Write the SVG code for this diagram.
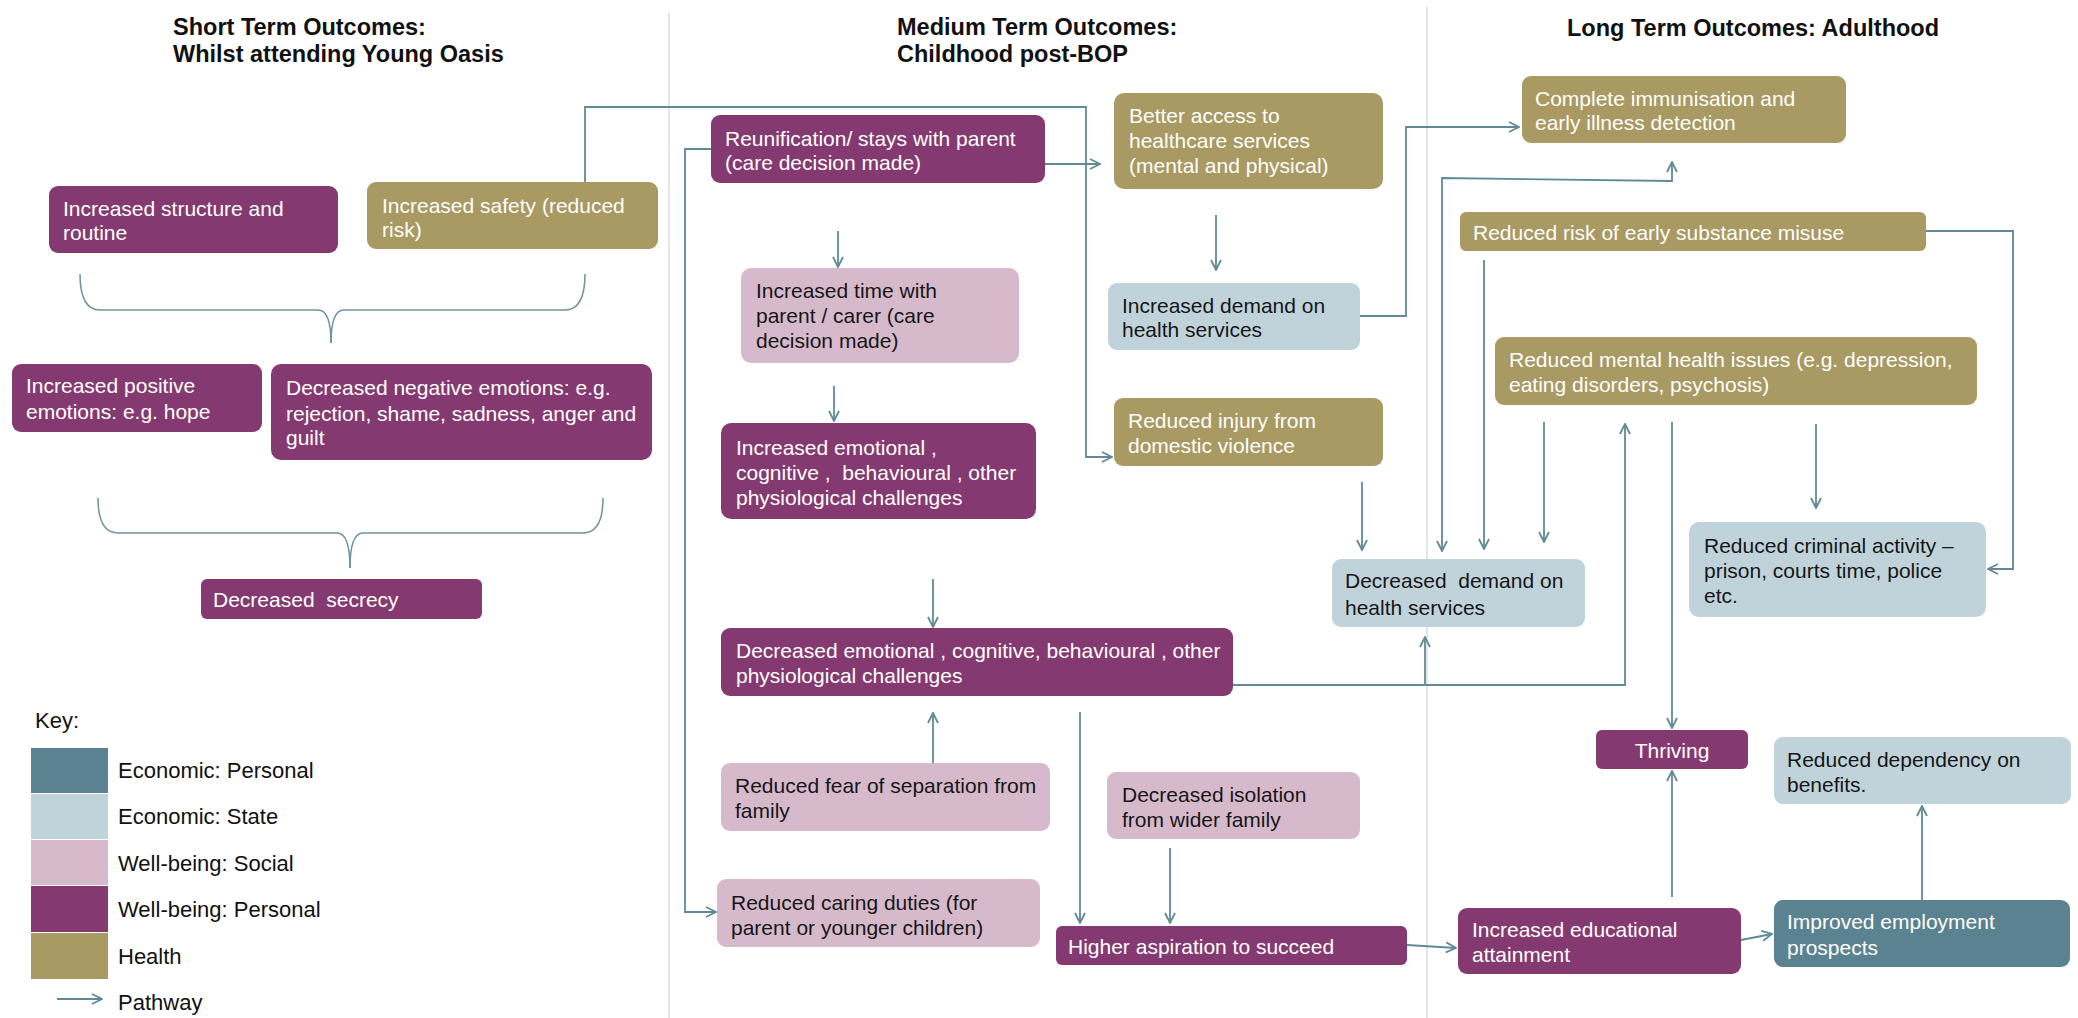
<svg xmlns="http://www.w3.org/2000/svg" width="2078" height="1018" viewBox="0 0 2078 1018">
  <defs>
    <marker id="arrow" viewBox="0 0 12 12" refX="11" refY="6" markerWidth="12" markerHeight="12" markerUnits="userSpaceOnUse" orient="auto-start-reverse">
      <path d="M1,1 L11,6 L1,11" fill="none" stroke="#5f8a96" stroke-width="1.8"/>
    </marker>
  </defs>
  <style>
    text { font-family: "Liberation Sans", Arial, sans-serif; font-size: 21px; white-space: pre; }
    .title { font-size: 23.5px; font-weight: bold; fill: #111; }
    .key { font-size: 22px; fill: #111; }
    .wp { fill: #843a70; }
    .ws { fill: #d6bacc; }
    .ep { fill: #5a8291; }
    .es { fill: #c0d3db; }
    .hl { fill: #a89a62; }
    .lt { fill: #ffffff; }
    .dk { fill: #161616; }
    .conn { fill: none; stroke: #5f8a96; stroke-width: 1.8; }
    .brace { fill: none; stroke: #6d929e; stroke-width: 1.5; }
    .divider { stroke: #d7dee1; stroke-width: 1.5; }
  </style>

  <rect width="2078" height="1018" fill="#ffffff"/>

  <!-- column dividers -->
  <g id="dividers">
    <line class="divider" x1="669" y1="13" x2="669" y2="1018"/>
    <line class="divider" x1="1427" y1="7" x2="1427" y2="1018"/>
  </g>

  <!-- column headings -->
  <g id="headings">
    <text class="title" x="173" y="35">Short Term Outcomes:</text>
    <text class="title" x="173" y="62">Whilst attending Young Oasis</text>
    <text class="title" x="897" y="35">Medium Term Outcomes:</text>
    <text class="title" x="897" y="62">Childhood post-BOP</text>
    <text class="title" x="1567" y="36">Long Term Outcomes: Adulthood</text>
  </g>

  <!-- braces -->
  <g id="braces">
    <path class="brace" d="M80,274 Q80,310 100,310 L318,310 Q331,310 331,343"/>
    <path class="brace" d="M585,274 Q585,310 565,310 L344,310 Q331,310 331,343"/>
    <path class="brace" d="M98,498 Q98,533 118,533 L337,533 Q350,533 350,568"/>
    <path class="brace" d="M603,498 Q603,533 583,533 L363,533 Q350,533 350,568"/>
  </g>

  <!-- connectors -->
  <g id="connectors">
    <polyline class="conn" points="585,182 585,107 1086,107 1086,457 1112,457" marker-end="url(#arrow)"/>
    <line class="conn" x1="1045" y1="164" x2="1100" y2="164" marker-end="url(#arrow)"/>
    <polyline class="conn" points="711,149 685,149 685,912 716,912" marker-end="url(#arrow)"/>
    <line class="conn" x1="838" y1="231" x2="838" y2="267" marker-end="url(#arrow)"/>
    <line class="conn" x1="834" y1="386" x2="834" y2="421" marker-end="url(#arrow)"/>
    <line class="conn" x1="1216" y1="215" x2="1216" y2="270" marker-end="url(#arrow)"/>
    <line class="conn" x1="1362" y1="482" x2="1362" y2="550" marker-end="url(#arrow)"/>
    <line class="conn" x1="933" y1="579" x2="933" y2="627" marker-end="url(#arrow)"/>
    <line class="conn" x1="933" y1="763" x2="933" y2="713" marker-end="url(#arrow)"/>
    <line class="conn" x1="1080" y1="712" x2="1080" y2="923" marker-end="url(#arrow)"/>
    <line class="conn" x1="1170" y1="848" x2="1170" y2="923" marker-end="url(#arrow)"/>
    <line class="conn" x1="1407" y1="945" x2="1456" y2="948" marker-end="url(#arrow)"/>
    <line class="conn" x1="1741" y1="940" x2="1772" y2="934" marker-end="url(#arrow)"/>
    <line class="conn" x1="1922" y1="900" x2="1922" y2="806" marker-end="url(#arrow)"/>
    <line class="conn" x1="1672" y1="897" x2="1672" y2="771" marker-end="url(#arrow)"/>
    <line class="conn" x1="1672" y1="422" x2="1672" y2="728" marker-end="url(#arrow)"/>
    <polyline class="conn" points="1233,685 1625,685 1625,424" marker-end="url(#arrow)"/>
    <line class="conn" x1="1425" y1="685" x2="1425" y2="637" marker-end="url(#arrow)"/>
    <polyline class="conn" points="1360,316 1406,316 1406,127 1519,127" marker-end="url(#arrow)"/>
    <polyline class="conn" points="1442,551 1442,178 1672,181 1672,162" marker-start="url(#arrow)" marker-end="url(#arrow)"/>
    <line class="conn" x1="1484" y1="260" x2="1484" y2="549" marker-end="url(#arrow)"/>
    <line class="conn" x1="1544" y1="422" x2="1544" y2="542" marker-end="url(#arrow)"/>
    <line class="conn" x1="1816" y1="424" x2="1816" y2="508" marker-end="url(#arrow)"/>
    <polyline class="conn" points="1926,231 2013,231 2013,569 1988,569" marker-end="url(#arrow)"/>
  </g>

  <!-- short term nodes -->
  <g id="structure-routine">
    <rect class="wp" x="49" y="186" width="289" height="67" rx="9"/>
    <text class="lt" x="63" y="216">Increased structure and</text>
    <text class="lt" x="63" y="240">routine</text>
  </g>
  <g id="increased-safety">
    <rect class="hl" x="367" y="182" width="291" height="67" rx="9"/>
    <text class="lt" x="382" y="213">Increased safety (reduced</text>
    <text class="lt" x="382" y="237">risk)</text>
  </g>
  <g id="positive-emotions">
    <rect class="wp" x="12" y="364" width="250" height="68" rx="9"/>
    <text class="lt" x="26" y="393">Increased positive</text>
    <text class="lt" x="26" y="419">emotions: e.g. hope</text>
  </g>
  <g id="negative-emotions">
    <rect class="wp" x="271" y="364" width="381" height="96" rx="10"/>
    <text class="lt" x="286" y="395">Decreased negative emotions: e.g.</text>
    <text class="lt" x="286" y="421">rejection, shame, sadness, anger and</text>
    <text class="lt" x="286" y="445">guilt</text>
  </g>
  <g id="decreased-secrecy">
    <rect class="wp" x="201" y="579" width="281" height="40" rx="6"/>
    <text class="lt" x="213" y="607">Decreased  secrecy</text>
  </g>

  <!-- medium term nodes -->
  <g id="reunification">
    <rect class="wp" x="711" y="115" width="334" height="68" rx="9"/>
    <text class="lt" x="725" y="146">Reunification/ stays with parent</text>
    <text class="lt" x="725" y="170">(care decision made)</text>
  </g>
  <g id="time-with-parent">
    <rect class="ws" x="741" y="268" width="278" height="95" rx="10"/>
    <text class="dk" x="756" y="298">Increased time with</text>
    <text class="dk" x="756" y="323">parent / carer (care</text>
    <text class="dk" x="756" y="348">decision made)</text>
  </g>
  <g id="increased-challenges">
    <rect class="wp" x="721" y="423" width="315" height="96" rx="10"/>
    <text class="lt" x="736" y="455">Increased emotional ,</text>
    <text class="lt" x="736" y="480">cognitive ,  behavioural , other</text>
    <text class="lt" x="736" y="505">physiological challenges</text>
  </g>
  <g id="decreased-challenges">
    <rect class="wp" x="721" y="628" width="512" height="68" rx="9"/>
    <text class="lt" x="736" y="658">Decreased emotional , cognitive, behavioural , other</text>
    <text class="lt" x="736" y="683">physiological challenges</text>
  </g>
  <g id="fear-of-separation">
    <rect class="ws" x="721" y="763" width="329" height="68" rx="9"/>
    <text class="dk" x="735" y="793">Reduced fear of separation from</text>
    <text class="dk" x="735" y="818">family</text>
  </g>
  <g id="caring-duties">
    <rect class="ws" x="717" y="879" width="323" height="68" rx="9"/>
    <text class="dk" x="731" y="910">Reduced caring duties (for</text>
    <text class="dk" x="731" y="935">parent or younger children)</text>
  </g>
  <g id="healthcare-access">
    <rect class="hl" x="1114" y="93" width="269" height="96" rx="10"/>
    <text class="lt" x="1129" y="123">Better access to</text>
    <text class="lt" x="1129" y="148">healthcare services</text>
    <text class="lt" x="1129" y="173">(mental and physical)</text>
  </g>
  <g id="increased-demand">
    <rect class="es" x="1108" y="283" width="252" height="67" rx="9"/>
    <text class="dk" x="1122" y="313">Increased demand on</text>
    <text class="dk" x="1122" y="337">health services</text>
  </g>
  <g id="reduced-injury">
    <rect class="hl" x="1114" y="398" width="269" height="68" rx="9"/>
    <text class="lt" x="1128" y="428">Reduced injury from</text>
    <text class="lt" x="1128" y="453">domestic violence</text>
  </g>
  <g id="decreased-isolation">
    <rect class="ws" x="1107" y="772" width="253" height="67" rx="9"/>
    <text class="dk" x="1122" y="802">Decreased isolation</text>
    <text class="dk" x="1122" y="827">from wider family</text>
  </g>
  <g id="higher-aspiration">
    <rect class="wp" x="1056" y="926" width="351" height="39" rx="6"/>
    <text class="lt" x="1068" y="954">Higher aspiration to succeed</text>
  </g>
  <g id="decreased-demand">
    <rect class="es" x="1332" y="559" width="253" height="68" rx="9"/>
    <text class="dk" x="1345" y="588">Decreased  demand on</text>
    <text class="dk" x="1345" y="615">health services</text>
  </g>

  <!-- long term nodes -->
  <g id="immunisation">
    <rect class="hl" x="1522" y="76" width="324" height="67" rx="9"/>
    <text class="lt" x="1535" y="106">Complete immunisation and</text>
    <text class="lt" x="1535" y="130">early illness detection</text>
  </g>
  <g id="substance-misuse">
    <rect class="hl" x="1460" y="212" width="466" height="39" rx="6"/>
    <text class="lt" x="1473" y="240">Reduced risk of early substance misuse</text>
  </g>
  <g id="mental-health">
    <rect class="hl" x="1495" y="337" width="482" height="68" rx="9"/>
    <text class="lt" x="1509" y="367">Reduced mental health issues (e.g. depression,</text>
    <text class="lt" x="1509" y="392">eating disorders, psychosis)</text>
  </g>
  <g id="criminal-activity">
    <rect class="es" x="1689" y="522" width="297" height="95" rx="10"/>
    <text class="dk" x="1704" y="553">Reduced criminal activity –</text>
    <text class="dk" x="1704" y="578">prison, courts time, police</text>
    <text class="dk" x="1704" y="603">etc.</text>
  </g>
  <g id="thriving">
    <rect class="wp" x="1596" y="730" width="152" height="39" rx="6"/>
    <text class="lt" x="1672" y="758" text-anchor="middle">Thriving</text>
  </g>
  <g id="benefit-dependency">
    <rect class="es" x="1774" y="737" width="297" height="67" rx="9"/>
    <text class="dk" x="1787" y="767">Reduced dependency on</text>
    <text class="dk" x="1787" y="792">benefits.</text>
  </g>
  <g id="educational-attainment">
    <rect class="wp" x="1458" y="908" width="283" height="66" rx="9"/>
    <text class="lt" x="1472" y="937">Increased educational</text>
    <text class="lt" x="1472" y="962">attainment</text>
  </g>
  <g id="employment-prospects">
    <rect class="ep" x="1774" y="900" width="296" height="67" rx="9"/>
    <text class="lt" x="1787" y="929">Improved employment</text>
    <text class="lt" x="1787" y="955">prospects</text>
  </g>

  <!-- key -->
  <g id="key">
    <text class="key" x="35" y="728">Key:</text>
    <rect class="ep" x="31" y="748" width="77" height="45"/>
    <rect class="es" x="31" y="794" width="77" height="45"/>
    <rect class="ws" x="31" y="840" width="77" height="45"/>
    <rect class="wp" x="31" y="886" width="77" height="46"/>
    <rect class="hl" x="31" y="933" width="77" height="46"/>
    <text class="key" x="118" y="778">Economic: Personal</text>
    <text class="key" x="118" y="824">Economic: State</text>
    <text class="key" x="118" y="871">Well-being: Social</text>
    <text class="key" x="118" y="917">Well-being: Personal</text>
    <text class="key" x="118" y="964">Health</text>
    <line class="conn" x1="57" y1="999" x2="102" y2="999" marker-end="url(#arrow)"/>
    <text class="key" x="118" y="1010">Pathway</text>
  </g>
</svg>
